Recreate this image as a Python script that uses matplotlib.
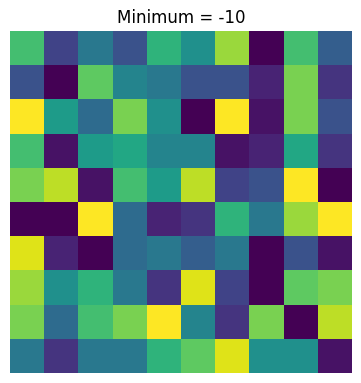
import numpy as np
import matplotlib
matplotlib.use("Agg")
import matplotlib.pyplot as plt

# grid values, read row by row (top to bottom)
row0 = [4, -6, -2, -5, 3, 0, 7, -10, 4, -4]
row1 = [-5, -10, 5, -1, -2, -5, -5, -8, 6, -7]
row2 = [10, 1, -3, 6, 0, -10, 10, -9, 6, -5]
row3 = [4, -9, 1, 2, -1, -1, -9, -8, 2, -7]
row4 = [6, 8, -9, 4, 1, 8, -6, -5, 10, -10]
row5 = [-10, -10, 10, -3, -8, -7, 3, -2, 7, 10]
row6 = [9, -8, -10, -3, -2, -4, -2, -10, -5, -9]
row7 = [7, 0, 3, -2, -7, 9, -6, -10, 5, 6]
row8 = [6, -3, 4, 6, 10, -1, -7, 6, -10, 8]
row9 = [-2, -7, -2, -2, 3, 5, 9, 0, 0, -9]

data = np.array([row0, row1, row2, row3, row4, row5, row6, row7, row8, row9])

fig = plt.figure(figsize=(3.61, 3.83), dpi=100)
ax = fig.add_axes([10 / 361, 10 / 383, 342 / 361, 342 / 383])
ax.imshow(data, cmap="viridis", vmin=-10, vmax=10)
ax.set_title("Minimum = {}".format(data.min()))
ax.axis("off")

fig.savefig("out.png", dpi=100)
